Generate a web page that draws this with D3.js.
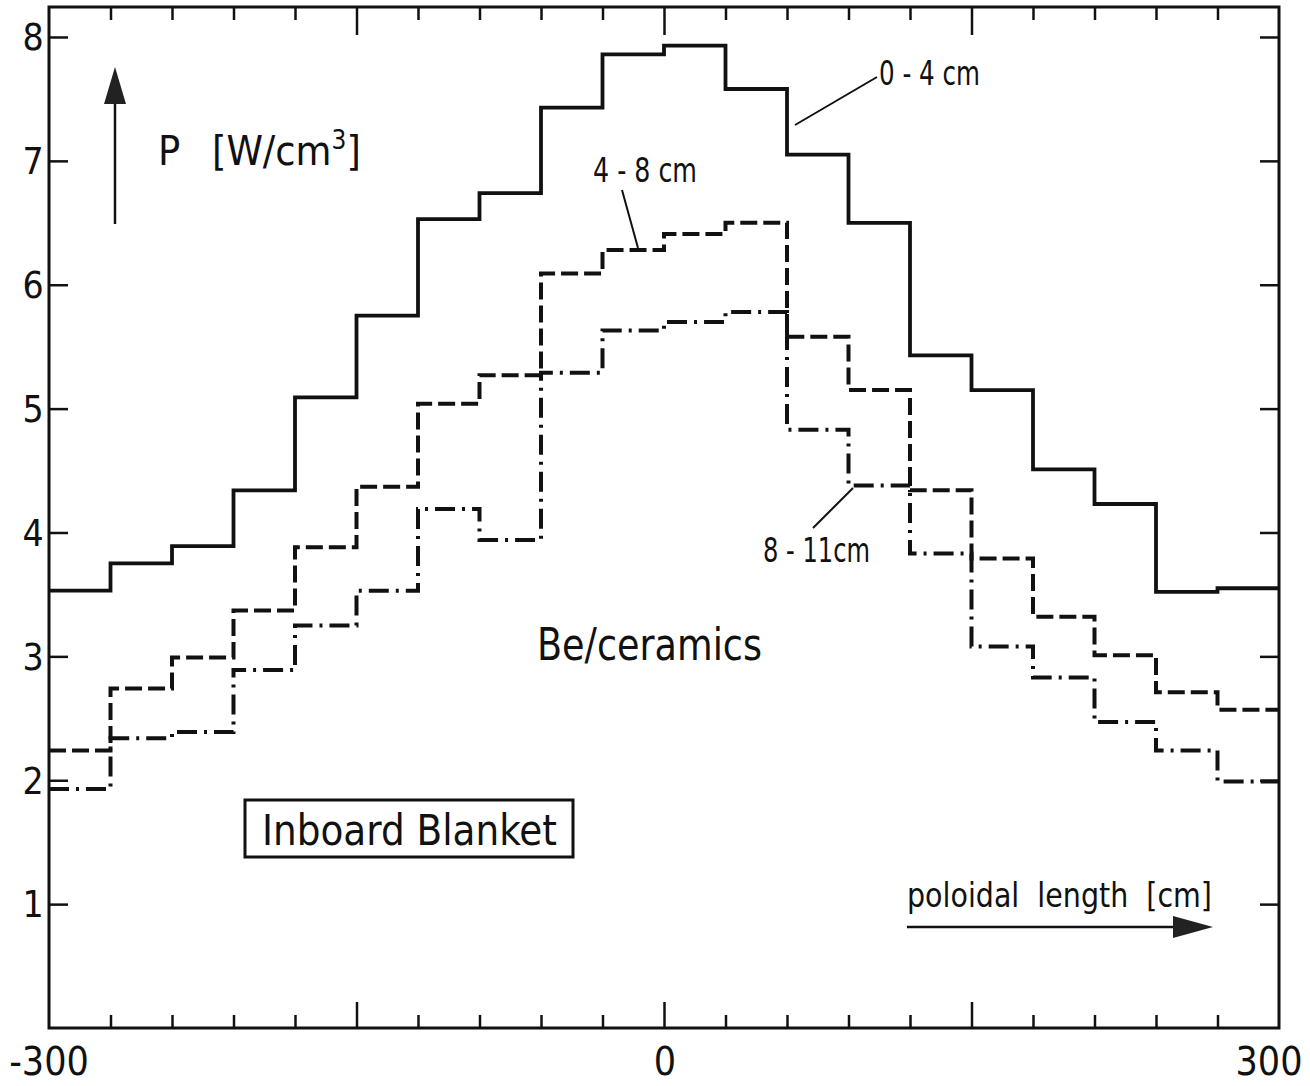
<!DOCTYPE html>
<html>
<head>
<meta charset="utf-8">
<script src="https://cdn.jsdelivr.net/npm/d3@7"></script>
<style>
  body { margin: 0; background: #fff; }
  text { font-family: "DejaVu Sans Condensed", "DejaVu Sans", sans-serif; fill: #111; white-space: pre; }
</style>
</head>
<body>
<svg id="chart" width="1310" height="1086"></svg>
<script>
// Poloidal bins (cm): 20 bins of 30 cm from -300 to 300
const binEdges = [-300, -270, -240, -210, -180, -150, -120, -90, -60, -30, 0,
                  30, 60, 90, 120, 150, 180, 210, 240, 270, 300];

// Power density P [W/cm3] per bin, for three radial depth zones
const depth0to4  = [3.53, 3.75, 3.89, 4.34, 5.09, 5.75, 6.53, 6.74, 7.43, 7.86,
                    7.93, 7.58, 7.05, 6.50, 5.43, 5.15, 4.51, 4.23, 3.52, 3.55];
const depth4to8  = [2.24, 2.74, 2.99, 3.37, 3.88, 4.37, 5.04, 5.27, 6.09, 6.28,
                    6.41, 6.50, 5.58, 5.15, 4.34, 3.79, 3.32, 3.01, 2.71, 2.57];
const depth8to11 = [1.93, 2.34, 2.39, 2.89, 3.25, 3.53, 4.19, 3.94, 5.29, 5.63,
                    5.70, 5.78, 4.83, 4.38, 3.83, 3.08, 2.83, 2.47, 2.24, 1.99];

const seriesNames = ["0 - 4 cm", "4 - 8 cm", "8 - 11cm"];
const xTickLabels = [-300, 0, 300];
const xMajorTicks = [-150, 0, 150];
const xMinorTicks = d3.range(-270, 300, 30).filter(v => !xMajorTicks.includes(v));
const yTickValues = [1, 2, 3, 4, 5, 6, 7, 8];

const svg = d3.select("#chart");
const plotLeft = 49, plotRight = 1279, plotTop = 7, plotBottom = 1028;

const x = d3.scaleLinear().domain([-300, 300]).range([plotLeft, plotRight]);
const y = d3.scaleLinear().domain([0, 8.242]).range([plotBottom, plotTop]);

// Frame
svg.append("rect")
  .attr("x", plotLeft).attr("y", plotTop)
  .attr("width", plotRight - plotLeft).attr("height", plotBottom - plotTop)
  .attr("fill", "none").attr("stroke", "#111").attr("stroke-width", 3);

// Inward ticks on all four sides
function tickAxis(axis, tx, ty) {
  const g = svg.append("g").attr("transform", `translate(${tx},${ty})`).call(axis);
  g.select(".domain").remove();
  g.selectAll("text").remove();
  g.selectAll("line").attr("stroke", "#111").attr("stroke-width", 2.5);
  return g;
}
tickAxis(d3.axisBottom(x).tickValues(xMinorTicks).tickSize(-13), 0, plotBottom);
tickAxis(d3.axisBottom(x).tickValues(xMajorTicks).tickSize(-26), 0, plotBottom);
tickAxis(d3.axisTop(x).tickValues(xMinorTicks).tickSize(-13), 0, plotTop);
tickAxis(d3.axisTop(x).tickValues(xMajorTicks).tickSize(-28), 0, plotTop);
tickAxis(d3.axisLeft(y).tickValues(yTickValues).tickSize(-19), plotLeft, 0);
tickAxis(d3.axisRight(y).tickValues(yTickValues).tickSize(-19), plotRight, 0);

// Tick labels
svg.append("g").selectAll("text").data(yTickValues).join("text")
  .attr("x", 33).attr("y", d => y(d)).attr("dy", "0.36em")
  .attr("text-anchor", "middle").attr("font-size", 37)
  .text(d => d);

const xLabelShift = { "-300": 0, "0": 1, "300": -10 };
svg.append("g").selectAll("text").data(xTickLabels).join("text")
  .attr("x", d => x(d) + xLabelShift[d]).attr("y", 1075)
  .attr("text-anchor", "middle").attr("font-size", 39)
  .text(d => String(d));

// Step curves
const stepLine = d3.line()
  .x(d => x(d[0])).y(d => y(d[1]))
  .curve(d3.curveStepAfter);
function stepPoints(vals) {
  const pts = vals.map((v, i) => [binEdges[i], v]);
  pts.push([binEdges[binEdges.length - 1], vals[vals.length - 1]]);
  return pts;
}
const seriesStyles = [
  { data: depth0to4,  dash: null,       width: 3.8 },
  { data: depth4to8,  dash: "17,6",     width: 4 },
  { data: depth8to11, dash: "20,7,3,7", width: 4 }
];
svg.append("g").selectAll("path").data(seriesStyles).join("path")
  .attr("d", d => stepLine(stepPoints(d.data)))
  .attr("fill", "none").attr("stroke", "#111")
  .attr("stroke-width", d => d.width)
  .attr("stroke-dasharray", d => d.dash)
  .attr("stroke-linejoin", "miter");

// Series labels with leader lines
const seriesLabels = [
  { text: seriesNames[0], tx: 879, ty: 85,  len: 101, lx1: 795, ly1: 125, lx2: 877, ly2: 77 },
  { text: seriesNames[1], tx: 593, ty: 182, len: 104, lx1: 622, ly1: 190, lx2: 638, ly2: 248 },
  { text: seriesNames[2], tx: 763, ty: 562, len: 107, lx1: 813, ly1: 528, lx2: 853, ly2: 488 }
];
const lab = svg.append("g");
lab.selectAll("line").data(seriesLabels).join("line")
  .attr("x1", d => d.lx1).attr("y1", d => d.ly1)
  .attr("x2", d => d.lx2).attr("y2", d => d.ly2)
  .attr("stroke", "#111").attr("stroke-width", 2);
lab.selectAll("text").data(seriesLabels).join("text")
  .attr("x", d => d.tx).attr("y", d => d.ty)
  .attr("font-size", 34)
  .attr("textLength", d => d.len).attr("lengthAdjust", "spacingAndGlyphs")
  .text(d => d.text);

// Y-axis quantity with upward arrow
svg.append("line").attr("x1", 115).attr("y1", 224).attr("x2", 115).attr("y2", 100)
  .attr("stroke", "#111").attr("stroke-width", 2.5);
svg.append("path").attr("d", "M115,67 L104,104 L126,104 Z").attr("fill", "#222");
svg.append("text").attr("x", 158).attr("y", 165).attr("font-size", 41).text("P");
const unit = svg.append("text").attr("x", 212).attr("y", 165).attr("font-size", 41);
unit.append("tspan").text("[W/cm");
unit.append("tspan").attr("dy", -16).attr("font-size", 26).text("3");
unit.append("tspan").attr("dy", 16).text("]");

// X-axis quantity with rightward arrow
svg.append("text").attr("x", 907).attr("y", 907).attr("font-size", 34)
  .attr("textLength", 305).attr("lengthAdjust", "spacingAndGlyphs")
  .text("poloidal  length  [cm]");
svg.append("line").attr("x1", 907).attr("y1", 927).attr("x2", 1180).attr("y2", 927)
  .attr("stroke", "#111").attr("stroke-width", 2.5);
svg.append("path").attr("d", "M1213,927 L1173,916 L1173,938 Z").attr("fill", "#222");

// Material annotation
svg.append("text").attr("x", 537).attr("y", 660).attr("font-size", 45)
  .attr("textLength", 225).attr("lengthAdjust", "spacingAndGlyphs")
  .text("Be/ceramics");

// Boxed title
svg.append("rect").attr("x", 245).attr("y", 800).attr("width", 328).attr("height", 57)
  .attr("fill", "none").attr("stroke", "#111").attr("stroke-width", 3);
svg.append("text").attr("x", 262).attr("y", 845).attr("font-size", 43)
  .attr("textLength", 295).attr("lengthAdjust", "spacingAndGlyphs")
  .text("Inboard Blanket");
</script>
</body>
</html>
